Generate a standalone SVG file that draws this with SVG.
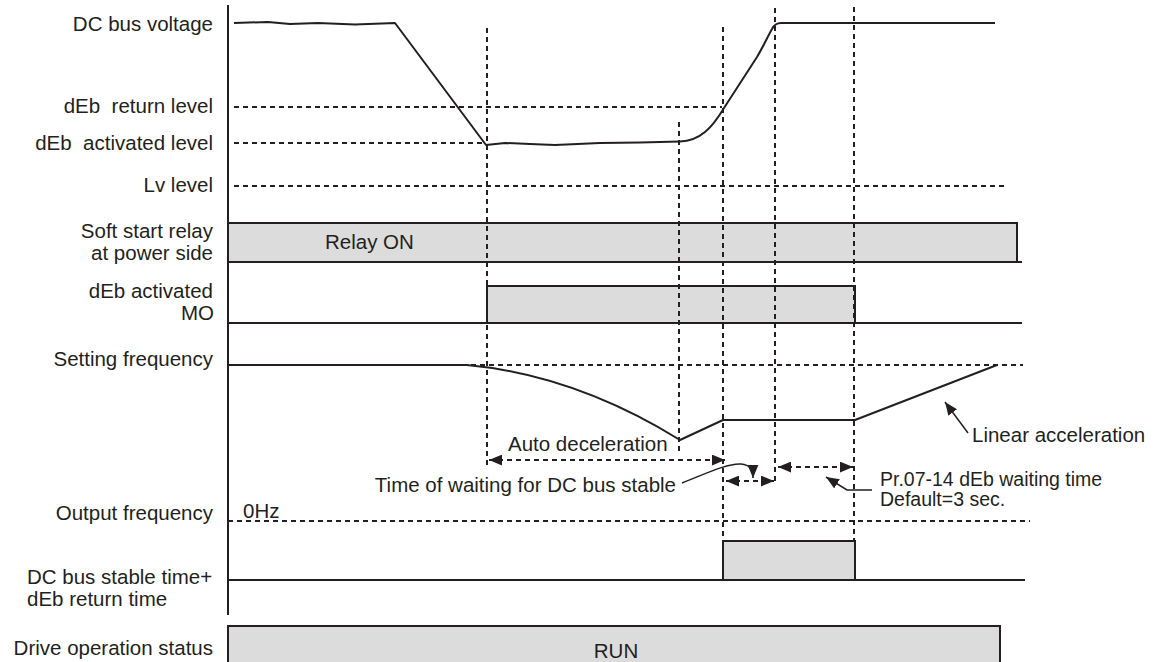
<svg xmlns="http://www.w3.org/2000/svg" width="1167" height="662" viewBox="0 0 1167 662">
<defs>
<style>
text{font-family:"Liberation Sans",Arial,sans-serif;font-size:20.5px;fill:#231f20;white-space:pre}
.lbl{text-anchor:end}
.dash{fill:none;stroke:#231f20;stroke-width:2;stroke-dasharray:5 4}
.sol{fill:none;stroke:#231f20;stroke-width:2;stroke-linejoin:round}
.box{fill:#dcdcdc;stroke:#231f20;stroke-width:2}
.thin{fill:none;stroke:#231f20;stroke-width:1.5}
.sm{font-size:19.5px}
</style>
<marker id="ah" viewBox="0 0 12 10" refX="12" refY="5" markerWidth="13" markerHeight="11" markerUnits="userSpaceOnUse" orient="auto-start-reverse">
<path d="M0,0 L12,5 L0,10 Z" fill="#231f20"/>
</marker>
</defs>
<rect width="1167" height="662" fill="#fff"/>

<g id="axis">
<line x1="228" y1="5" x2="228" y2="615" class="sol"/>
</g>

<g id="labels">
<text class="lbl" x="213" y="31">DC bus voltage</text>
<text class="lbl" x="213" y="113">dEb  return level</text>
<text class="lbl" x="213" y="150">dEb  activated level</text>
<text class="lbl" x="213" y="192">Lv level</text>
<text class="lbl" x="213" y="238">Soft start relay</text>
<text class="lbl" x="213" y="260">at power side</text>
<text class="lbl" x="213" y="298">dEb activated</text>
<text class="lbl" x="214" y="320">MO</text>
<text class="lbl" x="213" y="366">Setting frequency</text>
<text class="lbl" x="213" y="520">Output frequency</text>
<text x="27" y="584">DC bus stable time+</text>
<text x="27" y="606">dEb return time</text>
<text class="lbl" x="213" y="655">Drive operation status</text>
</g>

<g id="dc-bus-voltage">
<line x1="234" y1="107" x2="722" y2="107" class="dash"/>
<line x1="234" y1="143" x2="486" y2="143" class="dash"/>
<line x1="234" y1="186" x2="1007" y2="186" class="dash"/>
<path class="sol" d="M234,23 L268,22 L290,24 L318,23 L355,24.5 L395,23 L486,145 L505,143 L530,144 L555,145 L600,143 L640,142.5 L680,141.5 C700,141 712,128 724,108 L757,57 C763,47 768,36 772,29 Q775,23 781,23 L995,23"/>
</g>

<g id="soft-start-relay">
<rect class="box" x="228" y="223" width="789" height="39"/>
<line x1="1017" y1="262" x2="1022" y2="262" class="sol"/>
<text x="325" y="249">Relay ON</text>
</g>

<g id="deb-activated-mo">
<line x1="228" y1="323" x2="1022" y2="323" class="sol"/>
<rect class="box" x="487" y="286" width="368" height="37"/>
</g>

<g id="setting-frequency">
<line x1="228" y1="365" x2="1023" y2="365" class="dash"/>
<path class="sol" d="M228,365 L467,365 Q575,375 680,440 L723,420 L855,420 L997,365"/>
</g>

<g id="output-frequency">
<line x1="228" y1="521" x2="1030" y2="521" class="dash"/>
<text x="243" y="518">0Hz</text>
</g>

<g id="dc-bus-stable-time">
<line x1="228" y1="580" x2="1025" y2="580" class="sol"/>
<rect class="box" x="723" y="541" width="132" height="39"/>
</g>

<g id="drive-operation-status">
<rect class="box" x="228" y="626" width="772" height="45"/>
<text x="616" y="658" text-anchor="middle">RUN</text>
</g>

<g id="time-markers">
<line x1="487" y1="28" x2="487" y2="468" class="dash"/>
<line x1="679" y1="122" x2="679" y2="453" class="dash"/>
<line x1="723" y1="27" x2="723" y2="541" class="dash"/>
<line x1="775" y1="8" x2="775" y2="483" class="dash"/>
<line x1="854" y1="7" x2="854" y2="541" class="dash"/>
</g>

<g id="connectors">
<line x1="489" y1="460" x2="725" y2="460" class="dash" marker-start="url(#ah)" marker-end="url(#ah)"/>
<line x1="726" y1="481" x2="774" y2="481" class="dash" marker-start="url(#ah)" marker-end="url(#ah)"/>
<line x1="778" y1="467" x2="853" y2="467" class="dash" marker-start="url(#ah)" marker-end="url(#ah)"/>
<path class="thin" d="M682,483 C705,474 728,463 741,464 C750,465 753,469 753,478" marker-end="url(#ah)"/>
<path class="thin" d="M872,490 L847,490 L826,477" marker-end="url(#ah)"/>
<path class="thin" d="M968,433 L945,402" marker-end="url(#ah)"/>
</g>

<g id="annotations">
<text x="508" y="451">Auto deceleration</text>
<text x="676" y="492" text-anchor="end">Time of waiting for DC bus stable</text>
<text class="sm" x="880" y="486">Pr.07-14 dEb waiting time</text>
<text class="sm" x="880" y="506">Default=3 sec.</text>
<text x="972" y="442">Linear acceleration</text>
</g>
</svg>
